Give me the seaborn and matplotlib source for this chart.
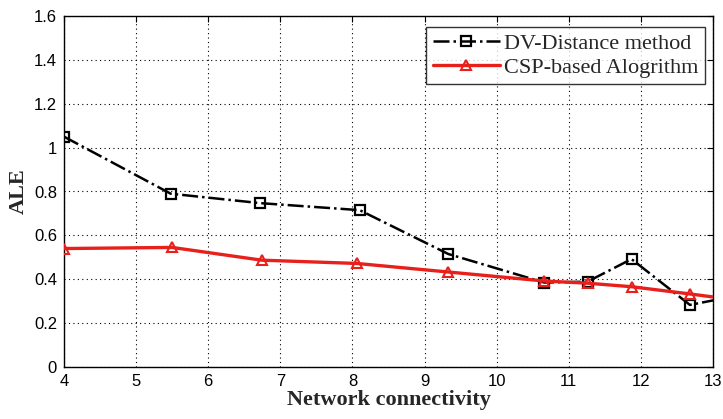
import matplotlib
matplotlib.use("Agg")
import matplotlib.pyplot as plt
import seaborn as sns
import pandas as pd

dv_x = [4.0, 5.48, 6.72, 8.1, 9.33, 10.66, 11.26, 11.87, 12.68, 13.1]
dv_y = [1.05, 0.79, 0.747, 0.715, 0.515, 0.385, 0.389, 0.492, 0.283, 0.31]
csp_x = [4.0, 5.5, 6.74, 8.06, 9.33, 10.66, 11.26, 11.87, 12.68, 13.1]
csp_y = [0.54, 0.545, 0.487, 0.472, 0.433, 0.392, 0.382, 0.366, 0.333, 0.315]
x_ticks = [4, 5, 6, 7, 8, 9, 10, 11, 12, 13]
y_ticks = [0, 0.2, 0.4, 0.6, 0.8, 1.0, 1.2, 1.4, 1.6]
y_tick_labels = ["0", "0.2", "0.4", "0.6", "0.8", "1", "1.2", "1.4", "1.6"]
labels = ["DV-Distance method", "CSP-based Alogrithm"]

sns.set_style("white")
plt.rcParams['font.family'] = ['Liberation Sans', 'DejaVu Sans']

fig = plt.figure(figsize=(7.23, 4.19), dpi=100)
ax = fig.add_axes([64 / 723, 1 - 367 / 419, (713 - 64) / 723, (367 - 16) / 419])

df_dv = pd.DataFrame({"x": dv_x, "y": dv_y})
df_csp = pd.DataFrame({"x": csp_x, "y": csp_y})

sns.lineplot(data=df_dv, x="x", y="y", ax=ax, color="black", linestyle="-.",
             linewidth=1.8, marker="s", markersize=7, markerfacecolor="none",
             markeredgecolor="black", markeredgewidth=1.6, sort=False,
             label=labels[0], zorder=3)
sns.lineplot(data=df_csp, x="x", y="y", ax=ax, color="#e8201c", linestyle="-",
             linewidth=2.4, marker="^", markersize=7.5, markerfacecolor="none",
             markeredgecolor="#e8201c", markeredgewidth=1.5, sort=False,
             label=labels[1], zorder=4)

ax.set_xlim(4, 13)
ax.set_ylim(0, 1.6)
ax.set_xticks(x_ticks)
ax.set_yticks(y_ticks)
ax.set_yticklabels(y_tick_labels)
ax.tick_params(direction="in", top=True, right=True, length=4, width=0.8,
               labelsize=12, colors="black", pad=5)
for s in ax.spines.values():
    s.set_visible(True)
    s.set_color("black")
    s.set_linewidth(1.0)
ax.grid(True, linestyle=(0, (1, 3)), color="black", linewidth=0.8)

ax.set_xlabel("Network connectivity", family=["Liberation Serif"],
              fontweight="bold", fontsize=16, labelpad=1)
ax.set_ylabel("ALE", family=["Liberation Serif"], fontweight="bold",
              fontsize=16, labelpad=4)

leg = ax.legend(loc="upper right", bbox_to_anchor=(0.988, 0.97),
                prop={"family": "Liberation Serif", "size": 16},
                frameon=True, fancybox=False, handlelength=3.0,
                borderpad=0.3, labelspacing=0.15, handletextpad=0.2,
                borderaxespad=0.0)
leg.get_frame().set_edgecolor("black")
leg.get_frame().set_linewidth(1.0)

fig.savefig("out.png", dpi=100)
